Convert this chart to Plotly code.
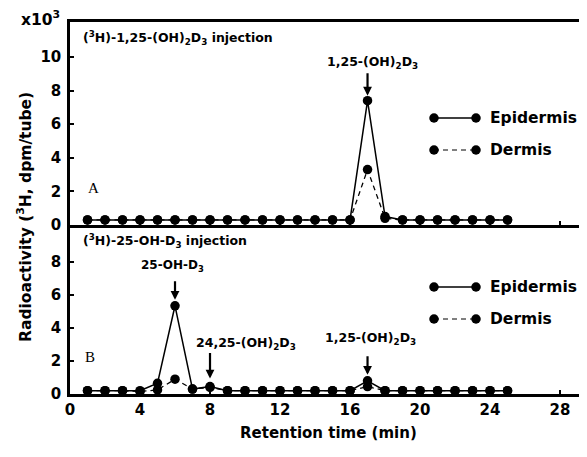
import plotly.graph_objects as go

# ---------------- data ----------------
time_min = [1, 2, 3, 4, 5, 6, 7, 8, 9, 10, 11, 12, 13, 14, 15, 16, 17, 18, 19, 20, 21, 22, 23, 24, 25]
a_epidermis = [0.3, 0.3, 0.3, 0.3, 0.3, 0.3, 0.3, 0.3, 0.3, 0.3, 0.3, 0.3, 0.3, 0.3, 0.3, 0.3,
               7.4, 0.5, 0.3, 0.3, 0.3, 0.3, 0.3, 0.3, 0.3]
a_dermis = [0.3, 0.3, 0.3, 0.3, 0.3, 0.3, 0.3, 0.3, 0.3, 0.3, 0.3, 0.3, 0.3, 0.3, 0.3, 0.3,
            3.3, 0.4, 0.3, 0.3, 0.3, 0.3, 0.3, 0.3, 0.3]
b_epidermis = [0.2, 0.2, 0.2, 0.2, 0.65, 5.35, 0.3, 0.45, 0.2, 0.2, 0.2, 0.2, 0.2, 0.2, 0.2, 0.2,
               0.8, 0.2, 0.2, 0.2, 0.2, 0.2, 0.2, 0.2, 0.2]
b_dermis = [0.2, 0.2, 0.2, 0.15, 0.25, 0.9, 0.3, 0.4, 0.2, 0.2, 0.2, 0.2, 0.2, 0.2, 0.2, 0.2,
            0.45, 0.2, 0.2, 0.2, 0.2, 0.2, 0.2, 0.2, 0.2]
x_ticks = [0, 4, 8, 12, 16, 20, 24, 28]
a_yticks = [0, 2, 4, 6, 8, 10]
b_yticks = [0, 2, 4, 6, 8]
series_names = ["Epidermis", "Dermis"]
peaks_a = [("1,25-(OH)<sub>2</sub>D<sub>3</sub>", 17, 7.4)]
peaks_b = [("25-OH-D<sub>3</sub>", 6, 5.35), ("24,25-(OH)<sub>2</sub>D<sub>3</sub>", 8, 0.45),
           ("1,25-(OH)<sub>2</sub>D<sub>3</sub>", 17, 0.8)]

# ---------------- layout geometry (reference pixels) ----------------
OFF = 8                      # default page body margin
W, H = 587 - OFF, 457 - OFF
L, R, T, B = 70, 587, 22, 394
MID = 225
XMAX = 29.54
A_TOP = 12.08
B_TOP = 10.25
d = (B - MID) / (B - T)

def px(x):
    return (x - L) / (R - L)

def py(y):
    return (B - y) / (B - T)

def dx(xpix):
    return (xpix - L) / (R - L) * XMAX

def dya(ypix):
    return (MID - ypix) / (MID - T) * A_TOP

def dyb(ypix):
    return (B - ypix) / (B - MID) * B_TOP

FONT = "DejaVu Sans"
def bf(size):
    return dict(family=FONT, size=size, color="black", weight="bold")

def note(xpix, ypix, text, font, xanchor="center", **kw):
    d_ = dict(x=px(xpix), y=py(ypix), xref="paper", yref="paper", text=text,
              showarrow=False, xanchor=xanchor, yanchor="middle", font=font)
    d_.update(kw)
    return d_

DASH = "5px,4px"
fig = go.Figure()

mk = dict(color="black", size=9.5)
# panel A (top)
fig.add_trace(go.Scatter(x=time_min, y=a_epidermis, xaxis="x2", yaxis="y2", mode="lines+markers",
                         line=dict(color="black", width=1.5), marker=mk, showlegend=False))
fig.add_trace(go.Scatter(x=time_min, y=a_dermis, xaxis="x2", yaxis="y2", mode="lines+markers",
                         line=dict(color="black", width=1.3, dash=DASH), marker=mk, showlegend=False))
# panel B (bottom)
fig.add_trace(go.Scatter(x=time_min, y=b_epidermis, xaxis="x", yaxis="y", mode="lines+markers",
                         line=dict(color="black", width=1.5), marker=mk, showlegend=False))
fig.add_trace(go.Scatter(x=time_min, y=b_dermis, xaxis="x", yaxis="y", mode="lines+markers",
                         line=dict(color="black", width=1.3, dash=DASH), marker=mk, showlegend=False))

annotations = []
# legend glyphs
for (xa, ya, yconv, ys) in [("x2", "y2", dya, [118, 150]), ("x", "y", dyb, [287, 319])]:
    for i, name in enumerate(series_names):
        yy = yconv(ys[i])
        fig.add_trace(go.Scatter(x=[dx(434), dx(476)], y=[yy, yy], xaxis=xa, yaxis=ya,
                                 mode="lines+markers",
                                 line=dict(color="black", width=1.5 if i == 0 else 1.0,
                                           dash="solid" if i == 0 else DASH),
                                 marker=dict(color="black", size=9.5), showlegend=False,
                                 hoverinfo="skip"))
        annotations.append(note(488, ys[i], name, bf(15.5), xanchor="left"))

# peak labels and arrows
def add_peak(label, xv, yv, xa, ya, label_px, label_py, tip_gap_px, arrow_len_px, size):
    annotations.append(note(label_px, label_py, label, bf(size)))
    annotations.append(dict(x=xv, y=yv, xref=xa, yref=ya, text="", showarrow=True,
                            axref="pixel", ayref="pixel", ax=0, ay=-arrow_len_px,
                            arrowhead=2, arrowsize=0.8, arrowwidth=2.2, arrowcolor="black",
                            standoff=tip_gap_px))

add_peak(peaks_a[0][0], peaks_a[0][1], peaks_a[0][2], "x2", "y2", 372, 62, 5, 29, 12.5)
add_peak(peaks_b[0][0], peaks_b[0][1], peaks_b[0][2], "x", "y", 172, 266, 6, 26, 12)
add_peak(peaks_b[1][0], peaks_b[1][1], peaks_b[1][2], "x", "y", 246, 343, 8, 35, 12.5)
add_peak(peaks_b[2][0], peaks_b[2][1], peaks_b[2][2], "x", "y", 370, 338, 6, 26, 12.5)

# panel titles
annotations.append(note(81, 38, "(<sup>3</sup>H)-1,25-(OH)<sub>2</sub>D<sub>3</sub> injection",
                        bf(12.5), xanchor="left"))
annotations.append(note(81, 241, "(<sup>3</sup>H)-25-OH-D<sub>3</sub> injection",
                        bf(12.5), xanchor="left"))
# panel letters
annotations.append(note(93, 188, "A", dict(family="Liberation Serif", size=15, color="black")))
annotations.append(note(90, 357, "B", dict(family="Liberation Serif", size=15, color="black")))
# x10^3
annotations.append(note(40, 18, "x10<sup>3</sup>", bf(15.5)))
# y title
annotations.append(note(24, 217, "Radioactivity (<sup>3</sup>H, dpm/tube)", bf(15.5),
                        textangle=-90))
# x title
annotations.append(note(328, 433, "Retention time (min)", bf(15)))

axis_common = dict(showgrid=False, zeroline=False, showline=True, linecolor="black",
                   linewidth=2.5, ticks="inside", ticklen=4, tickwidth=1.5, tickcolor="black",
                   tickfont=bf(15))

fig.update_layout(
    width=W, height=H,
    margin=dict(l=L - OFF, r=(587 - R), t=T - OFF, b=457 - B, pad=0),
    paper_bgcolor="white", plot_bgcolor="white",
    xaxis=dict(axis_common, domain=[0, 1], range=[0, XMAX], tickvals=x_ticks, anchor="y"),
    xaxis2=dict(axis_common, domain=[0, 1], range=[0, XMAX], tickvals=x_ticks,
                showticklabels=False, anchor="y2", matches="x", mirror=True),
    yaxis=dict(axis_common, domain=[0, d], range=[0, B_TOP], tickvals=b_yticks,
               anchor="x", ticklabelstandoff=3),
    yaxis2=dict(axis_common, domain=[d, 1], range=[0, A_TOP], tickvals=a_yticks,
                anchor="x2", ticklabelstandoff=3),
    annotations=annotations,
    showlegend=False,
)

fig.write_html("out.html")
